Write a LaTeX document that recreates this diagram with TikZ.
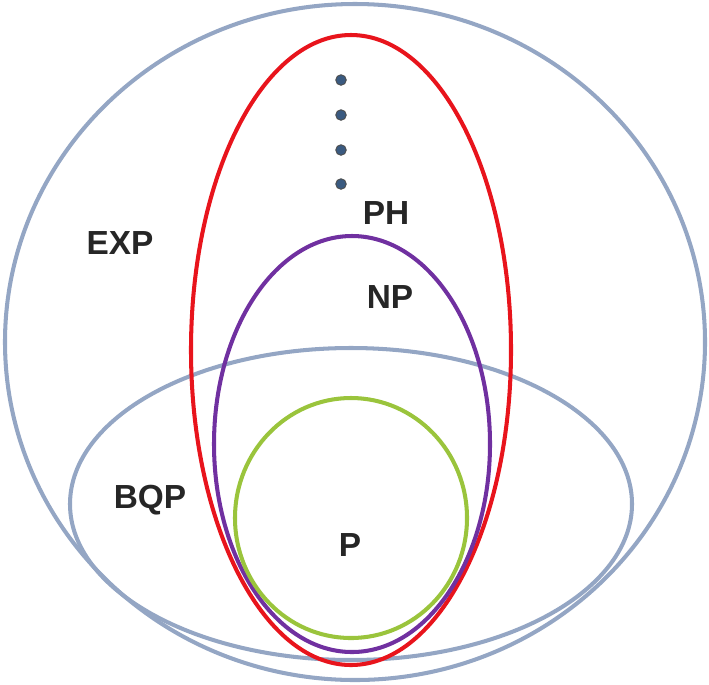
\documentclass[tikz,border=0pt]{standalone}
\usepackage{fontspec}
\setmainfont{Liberation Sans}
\definecolor{gb}{HTML}{94A6C4}
\definecolor{rd}{HTML}{E8141C}
\definecolor{pu}{HTML}{7030A0}
\definecolor{gr}{HTML}{9AC43C}
\definecolor{dt}{HTML}{3A5A80}
\begin{document}
\begin{tikzpicture}[x=0.02cm,y=-0.02cm,
  ring/.style={line width=2.3pt},
  lbl/.style={font=\fontsize{19}{19}\selectfont\bfseries, text=black!85},
  dotm/.style={circle,fill=dt,draw=black!70,line width=0.5pt,inner sep=0pt,minimum size=6pt}]
\useasboundingbox (0,0) rectangle (709,684);
\draw[ring,gb] (355,342) ellipse [x radius=350,y radius=338];
\draw[ring,gb] (351,504) ellipse [x radius=281,y radius=156];
\draw[ring,rd] (351,350) ellipse [x radius=160,y radius=315];
\draw[ring,pu] (352,444) ellipse [x radius=138,y radius=208];
\draw[ring,gr] (351,518) ellipse [x radius=116,y radius=120];
\foreach \i/\y in {1/80,2/115,3/150,4/184} \node[dotm] (d\i) at (341,\y) {};
\node[lbl] (exp) at (120,243) {EXP};
\node[lbl] (ph) at (386,213) {PH};
\node[lbl] (np) at (390,297) {NP};
\node[lbl] (bqp) at (150,500) {BQP};
\node[lbl] (p) at (350,545) {P};
\end{tikzpicture}
\end{document}
